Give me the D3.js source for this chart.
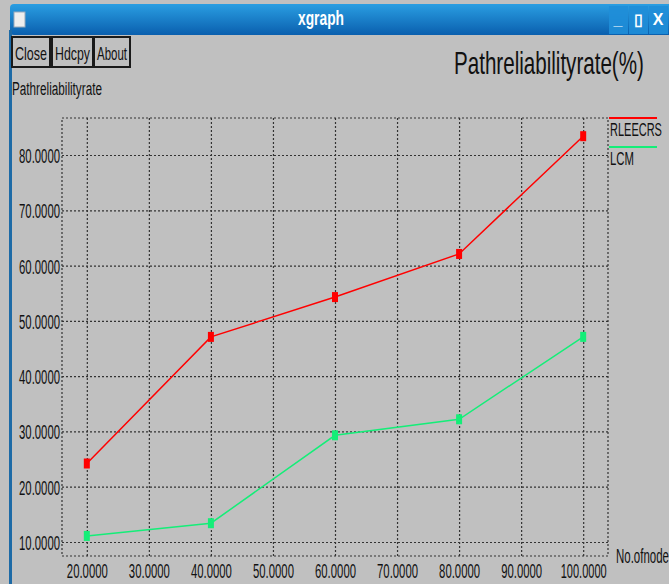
<!DOCTYPE html>
<html>
<head>
<meta charset="utf-8">
<script src="https://cdn.jsdelivr.net/npm/d3@7"></script>
<style>
  body { margin: 0; background: #c0c0c0; overflow: hidden; }
  text { font-family: "Liberation Sans", Arial, sans-serif; }
</style>
</head>
<body>
<script>
// Data
var nodes = [20, 40, 60, 80, 100];
var rleecrs = [24.2, 47.1, 54.3, 62.1, 83.4];
var lcm = [11.1, 13.4, 29.3, 32.2, 47.1];
var seriesNames = ["RLEECRS", "LCM"];
var seriesColors = ["#ff0000", "#14ee78"];
var xTicks = [20, 30, 40, 50, 60, 70, 80, 90, 100];
var yTicks = [10, 20, 30, 40, 50, 60, 70, 80];
var buttons = ["Close", "Hdcpy", "About"];

var width = 669;
var height = 584;

// Plot frame (window.top is reserved, so prefixed names)
var plotLeft = 62, plotRight = 608, plotTop = 118, plotBottom = 556;

var svg = d3.select("body")
    .append("svg")
    .attr("width", width)
    .attr("height", height);

// xgraph fonts are tall and narrow: squeeze a text horizontally to width w
function squeeze(t, w) {
    var n = t.node().getComputedTextLength();
    var s = w / n;
    var x0 = +t.attr("x") || 0;
    t.attr("x", x0 / s).attr("transform", "scale(" + s + ",1)");
}

// window background
svg.append("rect")
    .attr("width", width).attr("height", height)
    .attr("fill", "#c0c0c0");

// Title bar
var defs = svg.append("defs");
var grad = defs.append("linearGradient")
    .attr("id", "bar").attr("x1", 0).attr("y1", 0).attr("x2", 0).attr("y2", 1);
grad.append("stop").attr("offset", "0%").attr("stop-color", "#2a9ee2");
grad.append("stop").attr("offset", "100%").attr("stop-color", "#0a5fae");

svg.append("rect")
    .attr("x", 10).attr("y", 4).attr("width", width).attr("height", 31)
    .attr("rx", 4)
    .attr("fill", "url(#bar)");

// left window border
svg.append("rect")
    .attr("x", 9).attr("y", 30).attr("width", 3).attr("height", height)
    .attr("fill", "#1d6aa6");

// window icon
svg.append("rect")
    .attr("x", 14).attr("y", 12).attr("width", 11).attr("height", 15)
    .attr("fill", "#eeeeee").attr("stroke", "#9ab").attr("stroke-width", 1);

squeeze(svg.append("text")
    .text("xgraph")
    .attr("x", 321).attr("y", 25)
    .attr("text-anchor", "middle")
    .attr("font-size", "20px")
    .attr("font-weight", "bold")
    .attr("fill", "white"), 46);

// window control buttons
var ctrl = ["_", "\u25AF", "X"];
ctrl.forEach(function(c, i) {
    svg.append("rect")
        .attr("x", 609 + i * 20).attr("y", 6).attr("width", 19).attr("height", 28)
        .attr("fill", "#1f8ed8").attr("opacity", 0.9);
    svg.append("text")
        .text(c)
        .attr("x", 618 + i * 20).attr("y", 25)
        .attr("text-anchor", "middle")
        .attr("font-size", "16px")
        .attr("font-weight", "bold")
        .attr("fill", "white");
});

// Close / Hdcpy / About buttons
var bx = [12, 52, 94];
var bw = [38, 41, 36];
buttons.forEach(function(b, i) {
    svg.append("rect")
        .attr("x", bx[i]).attr("y", 37).attr("width", bw[i]).attr("height", 30)
        .attr("fill", "none").attr("stroke", "#1a1a1a").attr("stroke-width", 2);
    squeeze(svg.append("text")
        .text(b)
        .attr("x", bx[i] + bw[i] / 2).attr("y", 60)
        .attr("text-anchor", "middle")
        .attr("font-size", "18px")
        .attr("fill", "#111"), bw[i] - 6);
});

// Titles
squeeze(svg.append("text")
    .text("Pathreliabilityrate(%)")
    .attr("x", 454).attr("y", 74)
    .attr("font-size", "32px")
    .attr("fill", "#111"), 190);

squeeze(svg.append("text")
    .text("Pathreliabilityrate")
    .attr("x", 12).attr("y", 95)
    .attr("font-size", "19px")
    .attr("fill", "#111"), 90);

// Scales
var x = d3.scaleLinear().domain([16, 104]).range([plotLeft, plotRight]);
var y = d3.scaleLinear().domain([7.47, 86.69]).range([plotBottom, plotTop]);
var fmt = d3.format(".4f");

// Grid + labels on y
var yAxis = svg.append("g")
    .attr("transform", "translate(" + plotLeft + ",0)")
    .call(d3.axisLeft(y).tickValues(yTicks).tickFormat(fmt)
        .tickSize(-(plotRight - plotLeft)).tickPadding(2));

// Grid + labels on x
var xAxis = svg.append("g")
    .attr("transform", "translate(0," + plotBottom + ")")
    .call(d3.axisBottom(x).tickValues(xTicks).tickFormat(fmt)
        .tickSize(-(plotBottom - plotTop)).tickPadding(4));

[yAxis, xAxis].forEach(function(ax) {
    ax.attr("font-family", null);
    ax.select(".domain").remove();
    ax.selectAll(".tick line")
        .attr("stroke", "#333")
        .attr("stroke-dasharray", "2,2")
        .attr("stroke-width", 1.2);
    ax.selectAll(".tick text")
        .attr("fill", "#111");
});
yAxis.attr("font-size", 21);
xAxis.attr("font-size", 20);
yAxis.selectAll(".tick text")
    .attr("dy", "0.36em")
    .each(function() { squeeze(d3.select(this), 41); });
xAxis.selectAll(".tick text")
    .attr("dy", "0.9em")
    .each(function(d) { squeeze(d3.select(this), d >= 100 ? 46 : 41); });

// dotted frame
svg.append("rect")
    .attr("x", plotLeft).attr("y", plotTop)
    .attr("width", plotRight - plotLeft).attr("height", plotBottom - plotTop)
    .attr("fill", "none")
    .attr("stroke", "#333")
    .attr("stroke-width", 1.2)
    .attr("stroke-dasharray", "2,2");

// Lines + markers
var allSeries = [rleecrs, lcm];
var line = d3.line()
    .x(function(d, i) { return x(nodes[i]); })
    .y(function(d) { return y(d); });

allSeries.forEach(function(s, k) {
    svg.append("path")
        .datum(s)
        .attr("d", line)
        .attr("fill", "none")
        .attr("stroke", seriesColors[k])
        .attr("stroke-width", 1.5);

    svg.selectAll("rect.m" + k)
        .data(s)
        .enter()
        .append("rect")
        .attr("class", "m" + k)
        .attr("x", function(d, i) { return x(nodes[i]) - 3; })
        .attr("y", function(d) { return y(d) - 5; })
        .attr("width", 6)
        .attr("height", 10)
        .attr("fill", seriesColors[k]);
});

// Legend
seriesNames.forEach(function(n, k) {
    svg.append("line")
        .attr("x1", 609).attr("x2", 657)
        .attr("y1", 118 + k * 29).attr("y2", 118 + k * 29)
        .attr("stroke", seriesColors[k])
        .attr("stroke-width", 2);
    squeeze(svg.append("text")
        .text(n)
        .attr("x", 610).attr("y", 136 + k * 29)
        .attr("font-size", "19px")
        .attr("fill", "#111"), k == 0 ? 52 : 24);
});

// x axis name (runs off the window edge, as in the original)
squeeze(svg.append("text")
    .text("No.ofnode")
    .attr("x", 616).attr("y", 563)
    .attr("font-size", "21px")
    .attr("fill", "#111"), 53);
</script>
</body>
</html>
